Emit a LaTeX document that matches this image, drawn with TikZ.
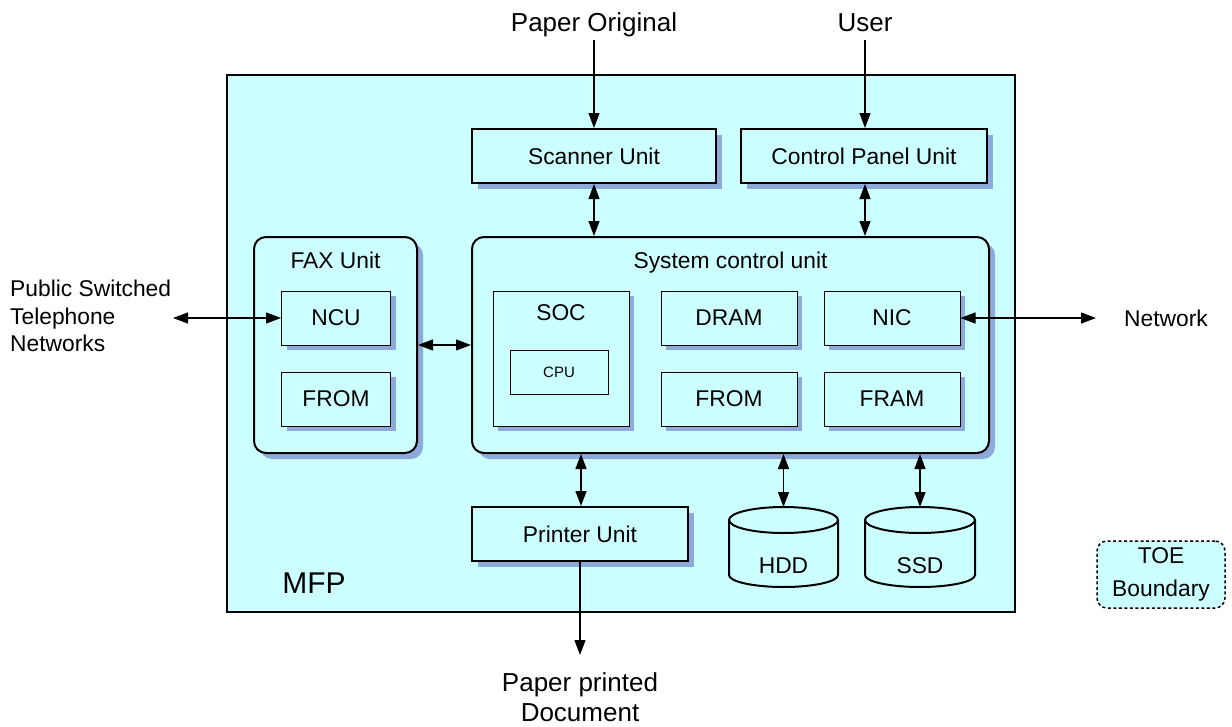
\documentclass[tikz,border=0pt]{standalone}
\usepackage{fontspec}
\setmainfont{Liberation Sans}
\usetikzlibrary{arrows.meta,shadows}
\definecolor{boxfill}{HTML}{CCFFFF}
\definecolor{shadowc}{HTML}{8EAADB}
\begin{document}
\begin{tikzpicture}[x=1pt,y=-1pt,
  txt/.style={font=\fontsize{22.8}{27.5}\selectfont, inner sep=0pt, align=center},
  bigtxt/.style={font=\fontsize{26}{30}\selectfont, inner sep=0pt, align=center},
  unitbox/.style={draw, line width=2pt, fill=boxfill, drop shadow={shadow xshift=6pt, shadow yshift=-6pt, fill=shadowc, opacity=1}, inner sep=0pt, txt},
  subbox/.style={draw, line width=1pt, fill=boxfill, drop shadow={shadow xshift=5pt, shadow yshift=-5pt, fill=shadowc, opacity=1}, inner sep=0pt, txt},
  cylline/.style={draw, line width=2pt, fill=boxfill},
  link/.style={line width=1.3pt, {Triangle[length=15pt,width=11pt]}-{Triangle[length=15pt,width=11pt]}},
  oneway/.style={line width=1.3pt, -{Triangle[length=15pt,width=11pt]}}]
\useasboundingbox (0,0) rectangle (1232,726);
% MFP frame
\node[draw, line width=2.4pt, fill=boxfill, minimum width=788pt, minimum height=537pt, inner sep=0pt] (mfp) at (621,343.5) {};
\node[txt, font=\fontsize{30}{36}\selectfont] (mfplabel) at (314,583) {MFP};
% top units
\node[unitbox, minimum width=244pt, minimum height=54pt] (scan) at (594,156) {Scanner Unit};
\node[unitbox, minimum width=246pt, minimum height=54pt] (ctrl) at (864,156) {Control Panel Unit};
% FAX unit
\node[unitbox, rounded corners=12pt, minimum width=163pt, minimum height=216pt] (fax) at (335.5,345) {};
\node[txt, anchor=base] (faxt) at (335.5,268) {FAX Unit};
\node[subbox, minimum width=109pt, minimum height=54pt] (ncu) at (336,318) {NCU};
\node[subbox, minimum width=109pt, minimum height=54pt] (from1) at (336,399) {FROM};
% System control unit
\node[unitbox, rounded corners=12pt, minimum width=517pt, minimum height=216pt] (scu) at (730.5,345) {};
\node[txt, anchor=base] (scut) at (730.5,268) {System control unit};
\node[subbox, minimum width=136pt, minimum height=135pt] (soc) at (561,358.5) {};
\node[txt, anchor=base] (soct) at (561,320) {SOC};
\node[draw, line width=1pt, fill=boxfill, minimum width=98pt, minimum height=44pt, inner sep=0pt, font=\fontsize{15}{18}\selectfont] (cpu) at (559,372) {CPU};
\node[subbox, minimum width=136pt, minimum height=54pt] (dram) at (729,318) {DRAM};
\node[subbox, minimum width=136pt, minimum height=54pt] (nic) at (892,318) {NIC};
\node[subbox, minimum width=136pt, minimum height=54pt] (from2) at (729,399) {FROM};
\node[subbox, minimum width=136pt, minimum height=54pt] (fram) at (892,399) {FRAM};
% Printer
\node[unitbox, minimum width=216pt, minimum height=54pt] (printer) at (580,534) {Printer Unit};
% Cylinders
\path[cylline] (729,520) -- (729,575) arc[start angle=180, end angle=0, x radius=54.5, y radius=12] -- (838,520) arc[start angle=0, end angle=-180, x radius=54.5, y radius=13] -- cycle;
\draw[line width=2pt] (729,520) arc[start angle=180, end angle=0, x radius=54.5, y radius=13];
\path[cylline] (865,520) -- (865,575) arc[start angle=180, end angle=0, x radius=55, y radius=12] -- (975,520) arc[start angle=0, end angle=-180, x radius=55, y radius=13] -- cycle;
\draw[line width=2pt] (865,520) arc[start angle=180, end angle=0, x radius=55, y radius=13];
\node[txt] (hdd) at (783.5,566) {HDD};
\node[txt] (ssd) at (920,566) {SSD};
\coordinate (hddtop) at (783.5,507);
\coordinate (ssdtop) at (920,507);
% TOE boundary legend
\node[draw, line width=1.5pt, dash pattern=on 3pt off 2.5pt, rounded corners=10pt, fill=boxfill, minimum width=128pt, minimum height=67pt, inner sep=0pt, font=\fontsize{22.8}{33}\selectfont, align=center] (toe) at (1161,574.5) {TOE\\Boundary};
% external labels
\node[bigtxt, anchor=base] (po) at (594,31) {Paper Original};
\node[bigtxt, anchor=base] (user) at (865,31) {User};
\node[txt, align=left, anchor=north west] (pstn) at (10,280) {Public Switched\\Telephone\\Networks};
\node[txt, anchor=west] (net) at (1124,318) {Network};
\node[bigtxt, anchor=north] (ppd) at (580,672) {Paper printed\\Document};
\coordinate (poend) at (594,40);
\coordinate (userend) at (865,40);
\coordinate (pstnend) at (173,318);
\coordinate (netend) at (1096,318);
\coordinate (ppdend) at (580,655);
% connectors
\draw[oneway] (poend) -- (poend |- scan.north);
\draw[oneway] (userend) -- (userend |- ctrl.north);
\draw[link] (scan.south) -- (scan.south |- scu.north);
\draw[link] (userend |- ctrl.south) -- (userend |- scu.north);
\draw[link] (fax.east) -- (scu.west);
\draw[link] (pstnend) -- (ncu.west);
\draw[link] (nic.east) -- (netend);
\draw[link] (printer.north -| 581,0) -- (scu.south -| 581,0);
\draw[link] (hddtop |- scu.south) -- (hddtop);
\draw[link] (ssdtop |- scu.south) -- (ssdtop);
\draw[oneway] (printer.south) -- (ppdend);
\end{tikzpicture}
\end{document}
